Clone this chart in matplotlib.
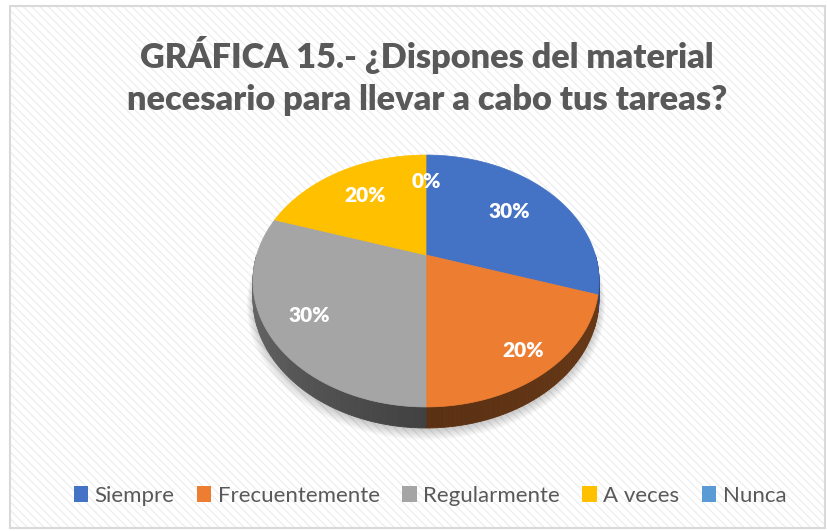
import numpy as np
import matplotlib
matplotlib.use("Agg")
import matplotlib.pyplot as plt
from matplotlib.patches import Rectangle, Polygon
from matplotlib.colors import to_rgb

# ---- data ----
categories = ["Siempre", "Frecuentemente", "Regularmente", "A veces", "Nunca"]
values = [30, 20, 30, 20, 0]
labels = ["30%", "20%", "30%", "20%", "0%"]
colors = ["#4472C4", "#ED7D31", "#A5A5A5", "#FFC000", "#5B9BD5"]
side_colors_far = ["#2c4a80", "#6a3a17", "#707070", "#a67c00", "#3b6590"]
side_colors_near = ["#2c4a80", "#5b3113", "#414141", "#a67c00", "#3b6590"]
title = "GRÁFICA 15.- ¿Dispones del material\nnecesario para llevar a cabo tus tareas?"

W, H = 827, 531
fig = plt.figure(figsize=(W / 100, H / 100), dpi=100)
fig.patch.set_facecolor("white")

# background with subtle diagonal stripes and border
plt.rcParams["hatch.linewidth"] = 1.0
bg = Rectangle((10 / W, 1 - 528 / H), 815 / W, 522 / H, transform=fig.transFigure,
               facecolor="white", edgecolor="#efefef", hatch="\\\\\\\\", lw=0, zorder=-2)
fig.patches.append(bg)
border = Rectangle((10 / W, 1 - 528 / H), 815 / W, 522 / H, transform=fig.transFigure,
                   fill=False, edgecolor="#d9d9d9", lw=1.5, zorder=-1)
fig.patches.append(border)

# pie axes in pixel coordinates (origin = projected pie centre)
ax = fig.add_axes([0, 0, 1, 1])
ax.set_zorder(2)
ax.set_xlim(-426, W - 426)
ax.set_ylim(-(H - 255), 255)
ax.axis("off")
ax.patch.set_alpha(0)

a, b, k = 169.3, 120.6, 0.2063   # perspective projection parameters
D = 16.7                          # thickness


def project(u, v):
    w = 1 + k * v
    return a * u / w, b * v / w, w


def lerp(c1, c2, f):
    c1, c2 = np.array(to_rgb(c1)), np.array(to_rgb(c2))
    return tuple(c1 + (c2 - c1) * f)


# soft shadow
for i in range(10):
    t = np.radians(np.linspace(0, 360, 361))
    xs, ys, w = project(np.cos(t), np.sin(t))
    s = 1 + 0.004 * i
    ax.add_patch(Polygon(np.column_stack([xs * s, (ys - D / w) * s - 2 - i * 0.4]),
                         closed=True, facecolor="black", edgecolor="none",
                         alpha=0.018, zorder=1))

total = sum(values)
cum = np.cumsum([0] + values)
# angles (math convention), start at 90 deg going clockwise
starts = 90 - 360 * cum[:-1] / total
ends = 90 - 360 * cum[1:] / total

# sides
for i, (s0, e0) in enumerate(zip(starts, ends)):
    if values[i] == 0:
        continue
    segs = []
    for off in (0, 360):
        lo, hi = max(e0 + off, -180), min(s0 + off, 0)
        if lo < hi:
            segs.append((lo, hi))
    for lo, hi in segs:
        th = np.linspace(lo, hi, int(hi - lo) + 2)
        for j in range(len(th) - 1):
            t = np.radians([th[j], th[j + 1]])
            xs, ys, w = project(np.cos(t), np.sin(t))
            mid = 0.5 * (th[j] + th[j + 1])
            f = 1 - min(abs(mid + 90) / 90, 1)
            c = lerp(side_colors_far[i], side_colors_near[i], f)
            pts = [(xs[0], ys[0]), (xs[1], ys[1]),
                   (xs[1], ys[1] - D / w[1]), (xs[0], ys[0] - D / w[0])]
            ax.add_patch(Polygon(pts, closed=True, facecolor=c, edgecolor=c,
                                 lw=0.6, zorder=2))

# top faces
for i, (s0, e0) in enumerate(zip(starts, ends)):
    if values[i] == 0:
        continue
    th = np.radians(np.linspace(s0, e0, 200))
    xs, ys, _ = project(np.cos(th), np.sin(th))
    pts = np.column_stack([np.r_[0, xs], np.r_[0, ys]])
    ax.add_patch(Polygon(pts, closed=True, facecolor=colors[i],
                         edgecolor=colors[i], lw=0.5, zorder=3))

# data labels
label_dist = [0.66, 0.84, 0.77, 0.68, 0.70]
for i, (s0, e0) in enumerate(zip(starts, ends)):
    m = np.radians(0.5 * (s0 + e0))
    r = label_dist[i]
    xs, ys, _ = project(r * np.cos(m), r * np.sin(m))
    ax.text(xs, ys, labels[i], color="white", fontsize=15, fontweight="heavy",
            family="Lato", ha="center", va="center", zorder=5)

# title
fig.text(427 / W, 1 - 76 / H, title, ha="center", va="center", fontsize=24.7,
         fontweight="heavy", color="#595959", family="Lato", linespacing=1.37)

# legend
handles = [Rectangle((0, 0), 1, 1, facecolor=c, edgecolor="none") for c in colors]
leg = fig.legend(handles, categories, loc="center", bbox_to_anchor=(430 / W, 1 - 496 / H),
                 ncol=5, frameon=False, handlelength=0.65, handleheight=0.75,
                 handletextpad=0.3, columnspacing=1.0,
                 prop={"family": "Lato", "size": 16})
for t in leg.get_texts():
    t.set_color("#595959")

fig.savefig("out.png", dpi=100, facecolor="white")
